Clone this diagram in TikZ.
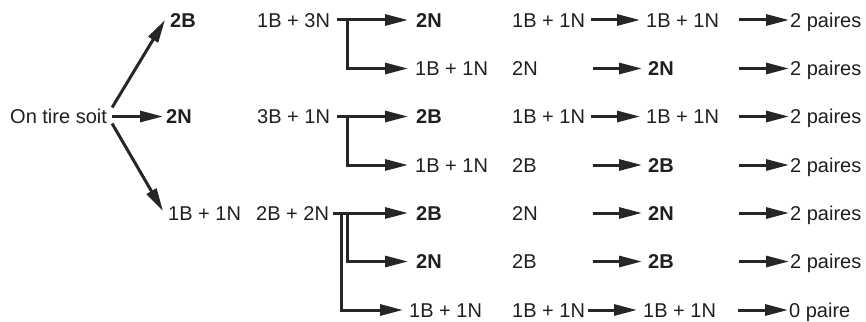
\documentclass[tikz,border=0pt]{standalone}
\usepackage{fontspec}
\setmainfont{Liberation Sans}
\usetikzlibrary{arrows.meta}
\begin{document}
\begin{tikzpicture}[x=1pt,y=-1pt,
  txt/.style={anchor=west,inner sep=0pt,text height=14.3pt,text depth=0pt,text=black!88,font=\fontsize{20}{24}\selectfont},
  bld/.style={txt,font=\fontsize{20}{24}\selectfont\bfseries},
  arr/.style={line width=3pt,draw=black!85,-{Triangle[length=23pt,width=11pt]}}]
\useasboundingbox (0,0) rectangle (866,321);
% left part
\node[txt] (ots) at (10,116.5) {On tire soit};
\node[bld] (a1) at (170,20) {2B};
\node[bld] (a2) at (166,116.5) {2N};
\node[txt] (a3) at (168,213) {1B + 1N};
\draw[arr] ([xshift=5pt,yshift=9pt]ots.east) -- ([xshift=-5pt]a1.west);
\draw[arr] ([xshift=5pt]ots.east) -- ([xshift=-3pt]a2.west);
\draw[arr] ([xshift=5pt,yshift=-7pt]ots.east) -- ([xshift=-5pt,yshift=2pt]a3.west);
% second column (urns)
\node[txt] (u1) at (257,20) {1B + 3N};
\node[txt] (u2) at (257,116.5) {3B + 1N};
\node[txt] (u3) at (256,213) {2B + 2N};
% third column
\node[bld] (b1) at (416,20) {2N};
\node[txt] (b2) at (415,68.5) {1B + 1N};
\node[bld] (b3) at (416,116.5) {2B};
\node[txt] (b4) at (415,165) {1B + 1N};
\node[bld] (b5) at (416,213) {2B};
\node[bld] (b6) at (416,261.5) {2N};
\node[txt] (b7) at (409,310) {1B + 1N};
% brackets
\draw[arr] ([xshift=7pt]u1.east) -- ([xshift=-8pt]b1.west);
\draw[arr] ([xshift=17pt]u1.east) |- ([xshift=-7pt]b2.west);
\draw[arr] ([xshift=7pt]u2.east) -- ([xshift=-8pt]b3.west);
\draw[arr] ([xshift=17pt]u2.east) |- ([xshift=-7pt]b4.west);
\draw[arr] ([xshift=4pt]u3.east) -- ([xshift=-8pt]b5.west);
\draw[arr] ([xshift=18pt]u3.east) |- ([xshift=-8pt]b6.west);
\draw[arr] ([xshift=12pt]u3.east) |- ([xshift=-6pt]b7.west);
% fourth column
\node[txt] (c1) at (512,20) {1B + 1N};
\node[txt] (c2) at (512,68.5) {2N};
\node[txt] (c3) at (512,116.5) {1B + 1N};
\node[txt] (c4) at (512,165) {2B};
\node[txt] (c5) at (512,213) {2N};
\node[txt] (c6) at (512,261.5) {2B};
\node[txt] (c7) at (512,310) {1B + 1N};
% fifth column
\node[txt] (d1) at (646,20) {1B + 1N};
\node[bld] (d2) at (648,68.5) {2N};
\node[txt] (d3) at (646,116.5) {1B + 1N};
\node[bld] (d4) at (648,165) {2B};
\node[bld] (d5) at (648,213) {2N};
\node[bld] (d6) at (648,261.5) {2B};
\node[txt] (d7) at (643,310) {1B + 1N};
% results
\node[txt] (e1) at (790,20) {2 paires};
\node[txt] (e2) at (790,68.5) {2 paires};
\node[txt] (e3) at (790,116.5) {2 paires};
\node[txt] (e4) at (790,165) {2 paires};
\node[txt] (e5) at (790,213) {2 paires};
\node[txt] (e6) at (790,261.5) {2 paires};
\node[txt] (e7) at (789,310) {0 paire};
\foreach \i in {1,...,7}{
  \draw[arr] ([xshift=-55pt]d\i.west |- c\i.west) -- ([xshift=-6pt]d\i.west |- c\i.west);
  \draw[arr] ([xshift=-51pt]e\i.west) -- ([xshift=-1pt]e\i.west);
}
\end{tikzpicture}
\end{document}
